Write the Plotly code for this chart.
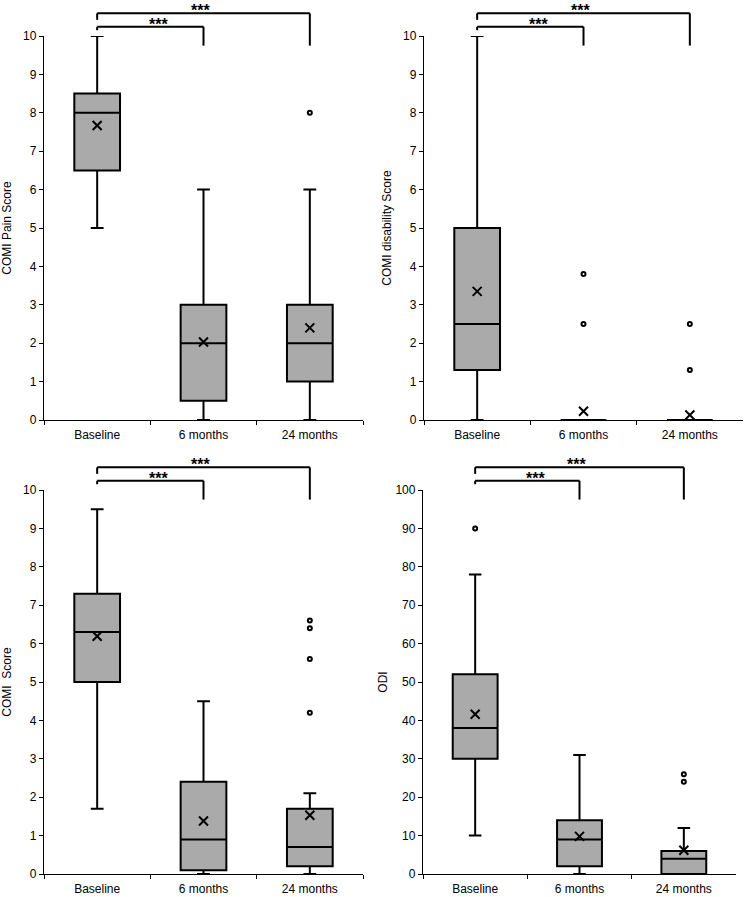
import plotly.graph_objects as go

cats = ["Baseline", "6 months", "24 months"]

# COMI Pain Score
pain_lower = [5, 0, 0]
pain_q1 = [6.5, 0.5, 1]
pain_median = [8, 2, 2]
pain_q3 = [8.5, 3, 3]
pain_upper = [10, 6, 6]
pain_mean = [7.67, 2.03, 2.4]
pain_out_x = ["24 months"]
pain_out_y = [8]

# COMI disability Score
dis_lower = [0, 0, 0]
dis_q1 = [1.3, 0, 0]
dis_median = [2.5, 0, 0]
dis_q3 = [5, 0, 0]
dis_upper = [10, 0, 0]
dis_mean = [3.35, 0.23, 0.13]
dis_out_x = ["6 months", "6 months", "24 months", "24 months"]
dis_out_y = [3.8, 2.5, 2.5, 1.3]

# COMI Score
comi_lower = [1.7, 0, 0]
comi_q1 = [5, 0.1, 0.2]
comi_median = [6.3, 0.9, 0.7]
comi_q3 = [7.3, 2.4, 1.7]
comi_upper = [9.5, 4.5, 2.1]
comi_mean = [6.19, 1.38, 1.53]
comi_out_x = ["24 months", "24 months", "24 months", "24 months"]
comi_out_y = [6.6, 6.4, 5.6, 4.2]

# ODI
odi_lower = [10, 0, 0]
odi_q1 = [30, 2, 0]
odi_median = [38, 9, 4]
odi_q3 = [52, 14, 6]
odi_upper = [78, 31, 12]
odi_mean = [41.6, 9.8, 6.2]
odi_out_x = ["Baseline", "24 months", "24 months"]
odi_out_y = [90, 26, 24]

panels = [
    ("COMI Pain Score", 10, 1, pain_lower, pain_q1, pain_median, pain_q3, pain_upper,
     pain_mean, pain_out_x, pain_out_y),
    ("COMI disability Score", 10, 1, dis_lower, dis_q1, dis_median, dis_q3, dis_upper,
     dis_mean, dis_out_x, dis_out_y),
    ("COMI  Score", 10, 1, comi_lower, comi_q1, comi_median, comi_q3, comi_upper,
     comi_mean, comi_out_x, comi_out_y),
    ("ODI", 100, 10, odi_lower, odi_q1, odi_median, odi_q3, odi_upper,
     odi_mean, odi_out_x, odi_out_y),
]

W, H = 746, 897
# plot areas in pixels: left, right, top, bottom
areas = [(44, 363, 36, 420), (424, 743, 36, 420), (44, 363, 490, 874), (423, 736, 490, 874)]
standoffs = [8, 8, 8, 5]

font = dict(family="Liberation Sans, Arial, sans-serif", size=12, color="black")
fig = go.Figure()
shapes = []
annotations = []

for k, (title, ymax, dtick, lo, q1, med, q3, up, mean, ox, oy) in enumerate(panels):
    s = "" if k == 0 else str(k + 1)
    xa, ya = "x" + s, "y" + s
    fig.add_trace(go.Box(
        x=cats, q1=q1, median=med, q3=q3, lowerfence=lo, upperfence=up,
        xaxis=xa, yaxis=ya, width=0.43, whiskerwidth=0.28,
        fillcolor="#aaaaaa", line=dict(color="black", width=2),
        boxpoints=False, hoverinfo="skip",
    ))
    fig.add_trace(go.Scatter(
        x=cats, y=mean, mode="markers", xaxis=xa, yaxis=ya,
        marker=dict(symbol="x-thin", size=9, line=dict(color="black", width=2)),
        hoverinfo="skip",
    ))
    fig.add_trace(go.Scatter(
        x=ox, y=oy, mode="markers", xaxis=xa, yaxis=ya,
        marker=dict(symbol="circle-open", size=4, color="black", line=dict(width=2)),
        hoverinfo="skip",
    ))

    l, r, t, b = areas[k]
    fig.update_layout(**{
        "xaxis" + s: dict(
            domain=[l / W, r / W], anchor=ya, type="category", range=[-0.5, 2.5],
            tickson="boundaries", ticks="outside", ticklen=4, tickcolor="black",
            showline=True, linecolor="black", linewidth=1.3, showgrid=False,
            tickfont=font, ticklabelstandoff=3, fixedrange=True, automargin=False,
        ),
        "yaxis" + s: dict(
            domain=[1 - b / H, 1 - t / H], anchor=xa, range=[0, ymax], dtick=dtick,
            ticks="outside", ticklen=4, tickcolor="black", showline=True,
            linecolor="black", linewidth=1.3, showgrid=False, zeroline=False,
            tickfont=font, title=dict(text=title, font=font, standoff=standoffs[k]),
            fixedrange=True, automargin=False,
        ),
    })

    # significance brackets (domain coordinates)
    xr, yr = xa + " domain", ya + " domain"
    c0, c1, c2 = 0.5 / 3, 1.5 / 3, 2.5 / 3
    ln = dict(color="black", width=2)
    for (xe, ytop, yleft) in [(c1, 1.024, 1.015), (c2, 1.059, 1.042)]:
        shapes.append(dict(type="line", xref=xr, yref=yr, x0=c0, x1=c0, y0=yleft, y1=ytop, line=ln))
        shapes.append(dict(type="line", xref=xr, yref=yr, x0=c0, x1=xe, y0=ytop, y1=ytop, line=ln))
        shapes.append(dict(type="line", xref=xr, yref=yr, x0=xe, x1=xe, y0=ytop, y1=0.975, line=ln))
        annotations.append(dict(
            xref=xr, yref=yr, x=(c0 + xe) / 2 - 0.01, y=ytop, yanchor="bottom",
            text="<b>***</b>", showarrow=False, yshift=-8,
            font=dict(family="Liberation Sans, Arial, sans-serif", size=16, color="black"),
        ))

fig.update_layout(
    width=W, height=H, margin=dict(l=0, r=0, t=0, b=0),
    paper_bgcolor="white", plot_bgcolor="white", showlegend=False,
    shapes=shapes, annotations=annotations,
)

fig.write_html("out.html", config={"displayModeBar": False},
               post_script="document.body.style.margin='0';")
